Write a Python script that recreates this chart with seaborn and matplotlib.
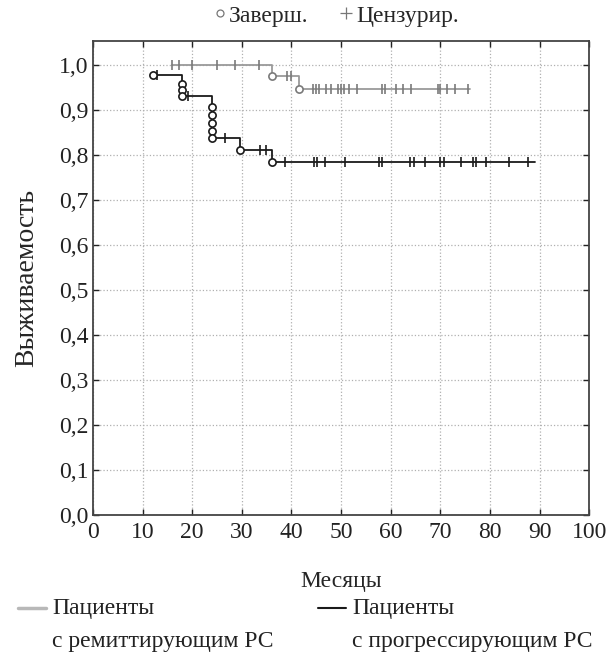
import matplotlib.pyplot as plt
import seaborn as sns
import pandas as pd
from matplotlib.lines import Line2D

# remitting MS (gray)
rem_start = 15.9
rem_end = 76
rem_event_t = [36, 41.6]
rem_event_s = [0.974, 0.945]
rem_censor_t = [15.9, 17.4, 20, 25, 28.6, 33.5, 39, 40,
                44.3, 45, 45.6, 47, 48, 49.3, 50, 50.6, 51.6, 53.3,
                58.2, 58.8, 61, 62.5, 64, 69.6, 70, 71.3, 72.9, 75.5]

# progressive MS (black)
prog_start = 12
prog_end = 89
prog_event_t = [12, 18, 18, 18, 24, 24, 24, 24, 24, 29.7, 36]
prog_event_s = [0.978, 0.956, 0.943, 0.930, 0.907, 0.889, 0.871, 0.853, 0.836, 0.811, 0.783]
prog_censor_t = [12.9, 19.2, 26.6, 33.6, 34.9, 38.7, 44.6, 45.2, 46.7, 50.8, 57.7, 58.3,
                 63.9, 64.6, 67, 70, 70.8, 74.2, 76.6, 77.2, 79.2, 83.8, 87.7]

x_ticks = list(range(0, 101, 10))
y_ticks = [i / 10 for i in range(11)]
y_labels = ['0,0', '0,1', '0,2', '0,3', '0,4', '0,5', '0,6', '0,7', '0,8', '0,9', '1,0']

group_names = ['Пациенты', 'Пациенты']
group_subs = ['с ремиттирующим РС', 'с прогрессирующим РС']

GRAY = '#9a9a9a'
BLACK = '#1a1a1a'


def step_frame(start, end, ev_t, ev_s):
    # start at first observation; survival 1 unless first obs is an event
    xs = [start]
    ys = [1.0]
    for t, s in zip(ev_t, ev_s):
        if t == start and len(xs) == 1:
            ys[0] = s
            continue
        xs.append(t)
        ys.append(s)
    xs.append(end)
    ys.append(ys[-1])
    return pd.DataFrame({'t': xs, 's': ys})


def surv_at(t, df):
    val = df['s'].iloc[0]
    for tt, ss in zip(df['t'], df['s']):
        if tt <= t:
            val = ss
    return val


sns.set_theme(style="ticks")
plt.rcParams['font.family'] = ['Liberation Serif', 'DejaVu Serif']

fig = plt.figure(figsize=(6.08, 6.57), dpi=100)
ax = fig.add_axes([0.153, 0.216, 0.816, 0.722])

series = [
    (rem_start, rem_end, rem_event_t, rem_event_s, rem_censor_t, GRAY, '#7a7a7a'),
    (prog_start, prog_end, prog_event_t, prog_event_s, prog_censor_t, BLACK, BLACK),
]
for start, end, ev_t, ev_s, cen_t, col, mcol in series:
    df = step_frame(start, end, ev_t, ev_s)
    sns.lineplot(data=df, x='t', y='s', ax=ax, color=col, lw=1.3,
                 drawstyle='steps-post', estimator=None, sort=False)
    cen = pd.DataFrame({'t': cen_t, 's': [surv_at(t, df) for t in cen_t]})
    ax.plot(cen['t'], cen['s'], ls='none', marker='|', ms=7.5, mew=1.2, color=mcol)
    ev = pd.DataFrame({'t': ev_t, 's': ev_s})
    ax.plot(ev['t'], ev['s'], ls='none', marker='o', ms=5.2, mfc='white',
            mec=mcol, mew=1.2)

ax.set_xlim(0, 100)
ax.set_ylim(0, 1.053)
ax.set_xticks(x_ticks)
ax.set_yticks(y_ticks)
ax.set_yticklabels(y_labels)
ax.tick_params(direction='in', top=True, right=True, length=4, width=1,
               labelsize=17, colors='#222222')
ax.tick_params(axis='x', pad=5)
ax.grid(True, ls=':', color='#b0b0b0', lw=0.9)
for sp in ax.spines.values():
    sp.set_color('#444444')
    sp.set_linewidth(1.3)

ax.set_xlabel('Месяцы', fontsize=17, labelpad=20)
ax.set_ylabel('Выживаемость', fontsize=20, labelpad=14)

top_handles = [
    Line2D([], [], ls='none', marker='o', ms=5, mfc='white', mec='#777777', mew=0.9),
    Line2D([], [], ls='none', marker='+', ms=8, mew=0.9, color='#777777'),
]
fig.legend(top_handles, ['Заверш.', 'Цензурир.'], loc='center', ncol=2,
           bbox_to_anchor=(0.55, 0.976), frameon=False, fontsize=17,
           handletextpad=0.0, columnspacing=1.2, handlelength=0.8)

# bottom legend: handle next to the first line of each two-line label
leg_cols = [(0.03, '#b8b8b8', 2.5), (0.523, BLACK, 1.5)]
y1, y2 = 0.074, 0.023
for (x0, col, lw), name, sub in zip(leg_cols, group_names, group_subs):
    fig.add_artist(Line2D([x0, x0 + 0.046], [y1, y1], color=col, lw=lw,
                          transform=fig.transFigure))
    fig.text(x0 + 0.056, y1, name, fontsize=17, va='center', ha='left', color='#222222')
    fig.text(x0 + 0.056, y2, sub, fontsize=17, va='center', ha='left', color='#222222')

fig.savefig('out.png', dpi=100)
